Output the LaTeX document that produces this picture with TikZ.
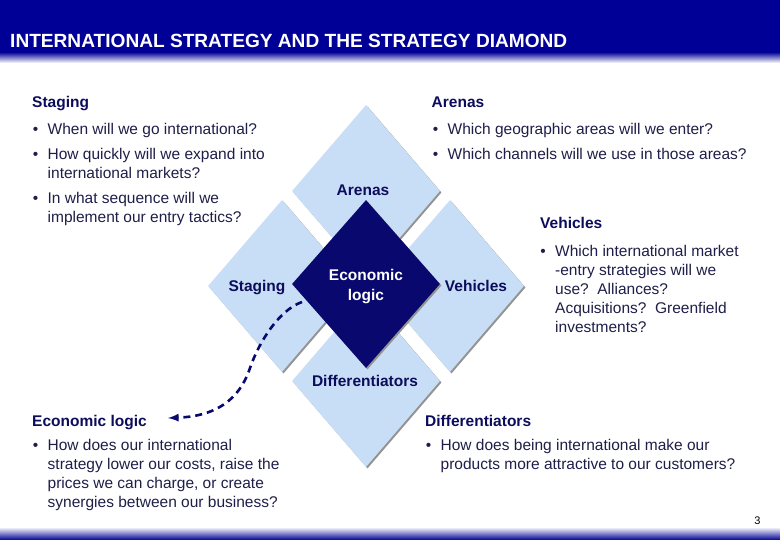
\documentclass[tikz,border=0pt]{standalone}
\usepackage{fontspec}
\setmainfont{Liberation Sans}
\usetikzlibrary{shapes.geometric, shadows, arrows}

\definecolor{hdrblue}{RGB}{0,0,150}
\definecolor{tilebg}{RGB}{200,222,246}
\definecolor{corenavy}{RGB}{8,8,110}
\definecolor{headtxt}{RGB}{12,12,92}
\definecolor{bodytxt}{RGB}{30,30,72}

\begin{document}
\begin{tikzpicture}[x=1pt,y=-1pt]
        % styles %
        \tikzstyle{tile} = [diamond,fill=tilebg,inner sep=0pt,minimum width=148pt,minimum height=172pt,
                            drop shadow={shadow xshift=1.5pt,shadow yshift=-1.5pt,fill=gray!85,opacity=1}];
        \tikzstyle{core} = [tile,fill=corenavy,minimum height=168pt];
        \tikzstyle{tilelbl} = [anchor=base,inner sep=0pt,text=headtxt,font=\fontsize{15.5}{20}\selectfont\bfseries];
        \tikzstyle{corelbl} = [inner sep=0pt,align=center,text=white,font=\fontsize{15.5}{20}\selectfont\bfseries];
        \tikzstyle{heading} = [anchor=base west,inner sep=0pt,text=headtxt,font=\fontsize{15.5}{19}\selectfont\bfseries];
        % multi-line items sit on the baseline of their last line
        \tikzstyle{qitem} = [anchor=base west,inner sep=0pt,align=left,text=bodytxt,font=\fontsize{15.5}{19}\selectfont];
        \tikzstyle{logicdep} = [-latex, draw=corenavy, line width=2.6pt, dash pattern=on 7pt off 5pt];
        \newcommand{\qb}{\llap{\textbullet\hspace{9.5pt}}}

        \useasboundingbox (0,0) rectangle (780,540);

        % header and footer %
        \fill[hdrblue] (0,0) rectangle (780,52);
        \shade[top color=hdrblue, bottom color=white] (0,52) rectangle (780,63);
        \shade[top color=white, bottom color=hdrblue] (0,527) rectangle (780,540);
        \node [anchor=base west,inner sep=0pt,text=white,font=\fontsize{19.1}{22}\selectfont\bfseries] (title) at (10,48)
              {INTERNATIONAL STRATEGY AND THE STRATEGY DIAMOND};
        \node [anchor=base,inner sep=0pt,font=\fontsize{11}{13}\selectfont] (pageno) at (757.5,524) {3};

        % diamond %
        \node [tile] (arenas) at (366,191) {};
        \node [tile] (staging) at (282,286) {};
        \node [tile] (vehicles) at (450,286) {};
        \node [tile] (diff) at (366,381) {};
        \node [core] (core) at (366,284) {};

        \node [tilelbl] (arenaslbl) at (363,196) {Arenas};
        \node [tilelbl] (staginglbl) at (257,292) {Staging};
        \node [tilelbl] (vehicleslbl) at (476,292) {Vehicles};
        \node [tilelbl] (difflbl) at (365,387) {Differentiators};
        \node [corelbl] (corelbl) at (366,287) {Economic\\logic};

        % questions %
        \node [heading] (stghead) at (32,108) {Staging};
        \node [qitem] (stg1) at (47.5,135) {\qb When will we go international?};
        \node [qitem] (stg2) at (47.5,179) {\qb How quickly will we expand into\\international markets?};
        \node [qitem] (stg3) at (47.5,223) {\qb In what sequence will we\\implement our entry tactics?};

        \node [heading] (arehead) at (431.5,108) {Arenas};
        \node [qitem] (are1) at (447.5,134.5) {\qb Which geographic areas will we enter?};
        \node [qitem] (are2) at (447.5,159.5) {\qb Which channels will we use in those areas?};

        \node [heading] (vehhead) at (540,229) {Vehicles};
        \node [qitem] (veh1) at (555,333) {\qb Which international market\\-entry strategies will we\\use?\ \ Alliances?\\Acquisitions?\ \ Greenfield\\investments?};

        \node [heading] (ecohead) at (32,426) {Economic logic};
        \node [qitem] (eco1) at (47.5,507) {\qb How does our international\\strategy lower our costs, raise the\\prices we can charge, or create\\synergies between our business?};

        \node [heading] (difhead) at (425,426) {Differentiators};
        \node [qitem] (dif1) at (440.5,469) {\qb How does being international make our\\products more attractive to our customers?};

        % edges %
        \coordinate (logicfrom) at (302,302);
        \coordinate (logicto) at (168,418);
        \draw[logicdep] (logicfrom) .. controls (279,310) and (259,342) .. (250,368)
                        .. controls (242,392) and (224,416) .. (logicto);
\end{tikzpicture}
\end{document}
